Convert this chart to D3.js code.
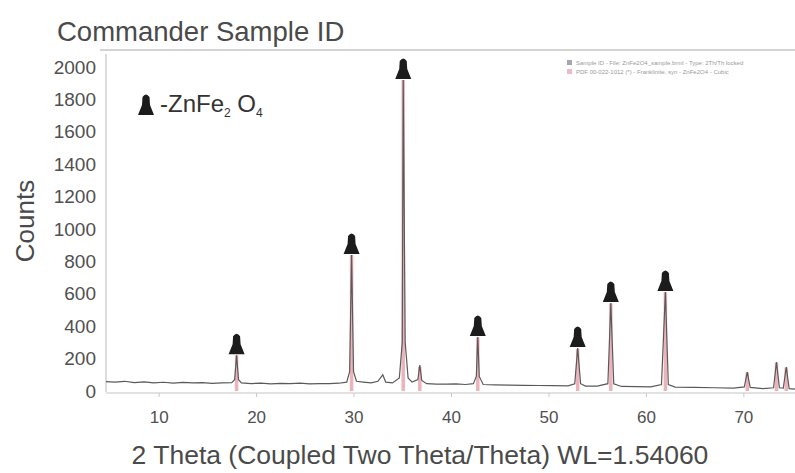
<!DOCTYPE html>
<html><head><meta charset="utf-8">
<script src="https://cdn.jsdelivr.net/npm/d3@7"></script>
<style>body{margin:0;background:#fff}svg{display:block}</style>
</head><body>
<script>
// ---- data ----
const measuredX = [4.6,5.5,6.5,7.5,8.5,9.5,10.5,11.5,12.5,13.5,14.5,15.5,16.5,17.5,17.8,18.0,18.2,18.5,19.5,20.5,21.5,22.5,23.5,24.5,25.5,26.5,27.5,28.5,29.3,29.6,29.8,30.0,30.3,31,31.8,32.5,33.0,33.3,34.0,34.7,35.0,35.1,35.3,35.6,36.0,36.6,36.8,37.0,37.5,38.5,39.5,40.5,41.5,42.3,42.6,42.75,42.9,43.3,44.5,46,47.5,49,50.5,52,52.7,53.0,53.3,53.8,55,56.1,56.4,56.7,57.5,59,60.5,61.6,62.0,62.3,63,65,67,69,70.1,70.4,70.7,72,73.1,73.4,73.7,74.1,74.4,74.7,75.3];
const measuredY = [58,55,60,52,56,50,54,49,53,50,52,47,50,52,70,220,70,50,46,48,44,47,45,48,44,46,45,48,55,120,840,120,60,55,50,60,100,55,50,80,300,1920,300,80,55,70,160,65,45,43,42,44,40,45,90,333,90,40,38,36,35,34,33,32,45,265,45,30,30,45,543,45,28,27,25,40,611,40,24,22,20,18,25,117,22,15,20,179,20,18,148,15,12];
const refX = [18.0,29.8,35.1,36.8,42.75,53.0,56.4,62.0,70.4,73.4,74.4];
const refI = [220,840,1920,150,330,260,540,610,115,175,145];
const markX = [18.0,29.8,35.1,42.75,53.0,56.4,62.0];
const markI = [220,840,1920,333,265,543,611];
const yTicks = [0,200,400,600,800,1000,1200,1400,1600,1800,2000];
const xTicks = [10,20,30,40,50,60,70];
const legendLabels = ["Sample ID - File: ZnFe2O4_sample.brml - Type: 2Th/Th locked","PDF 00-022-1012 (*) - Franklinite, syn - ZnFe2O4 - Cubic"];

const W = 795, H = 473;
const svg = d3.select("body").append("svg").attr("width", W).attr("height", H)
  .style("font-family", "'Liberation Sans', Arial, sans-serif");

const x = d3.scaleLinear().domain([4.6, 75.3]).range([106, 795]);
const y = d3.scaleLinear().domain([0, 2000]).range([391, 67]);

// frame lines
svg.append("line").attr("x1", 100).attr("x2", 795).attr("y1", 50).attr("y2", 50)
  .attr("stroke", "#d4d4d4").attr("stroke-width", 2);
svg.append("line").attr("x1", 106).attr("x2", 106).attr("y1", 54).attr("y2", 392)
  .attr("stroke", "#cfcfcf").attr("stroke-width", 1.5);
svg.append("line").attr("x1", 106).attr("x2", 795).attr("y1", 393).attr("y2", 393)
  .attr("stroke", "#d8d8d8").attr("stroke-width", 1.5);

// title
svg.append("text").attr("x", 57).attr("y", 41).attr("font-size", 27.5).attr("fill", "#4a4a4a")
  .text("Commander Sample ID");

// y axis
const yAxis = d3.axisLeft(y).tickValues(yTicks).tickSize(0).tickPadding(10).tickFormat(d3.format("d"));
const gy = svg.append("g").attr("transform", "translate(106,0)").call(yAxis);
gy.select(".domain").remove();
gy.selectAll("text").attr("font-size", 19).attr("fill", "#505050")
  .style("font-family", "'Liberation Sans', Arial, sans-serif");

// x axis
const xAxis = d3.axisBottom(x).tickValues(xTicks).tickSize(4).tickPadding(14);
const gx = svg.append("g").attr("transform", "translate(0,393)").call(xAxis);
gx.select(".domain").remove();
gx.selectAll("line").attr("stroke", "#c8c8c8");
gx.selectAll("text").attr("font-size", 17).attr("fill", "#505050")
  .style("font-family", "'Liberation Sans', Arial, sans-serif");

// axis titles
svg.append("text").attr("transform", "translate(34,221) rotate(-90)").attr("text-anchor", "middle")
  .attr("font-size", 26).attr("fill", "#4a4a4a").text("Counts");
svg.append("text").attr("x", 420).attr("y", 464).attr("text-anchor", "middle")
  .attr("font-size", 26.5).attr("fill", "#4a4a4a").text("2 Theta (Coupled Two Theta/Theta) WL=1.54060");

// reference sticks (pink)
svg.append("g").selectAll("line").data(refX).join("line")
  .attr("x1", d => x(d)).attr("x2", d => x(d))
  .attr("y1", y(0)).attr("y2", (d, i) => y(refI[i]))
  .attr("stroke", "#e89aa6").attr("stroke-width", 3.5).attr("opacity", 0.75);

// measured pattern
const pts = measuredX.map((d, i) => [d, measuredY[i]]);
svg.append("path").datum(pts)
  .attr("d", d3.line().x(d => x(d[0])).y(d => y(d[1])))
  .attr("fill", "none").attr("stroke", "#5a5a5a").attr("stroke-width", 1.2);

// markers
const markerPath = "M-8,0 L8,0 L4,-10 L3.5,-18 Q0,-23 -3.5,-18 L-4,-10 Z";
svg.append("g").selectAll("path").data(markX).join("path")
  .attr("transform", (d, i) => `translate(${x(d)},${y(markI[i]) - 1})`)
  .attr("d", markerPath).attr("fill", "#1c1c1c");

// inset label
svg.append("path").attr("transform", "translate(146,115)").attr("d", markerPath).attr("fill", "#1c1c1c");
const lab = svg.append("text").attr("x", 160).attr("y", 112).attr("font-size", 24).attr("fill", "#333");
lab.append("tspan").text("-ZnFe");
lab.append("tspan").attr("font-size", 12).attr("dy", 5).text("2");
lab.append("tspan").attr("dy", -5).text(" O");
lab.append("tspan").attr("font-size", 12).attr("dy", 5).text("4");

// legend (top right)
const lg = svg.append("g").attr("transform", "translate(567,60)");
const lgColors = ["#a9a4b0", "#f0b8c4"];
lg.selectAll("rect").data(legendLabels).join("rect")
  .attr("x", 0).attr("y", (d, i) => i * 9).attr("width", 5).attr("height", 5)
  .attr("fill", (d, i) => lgColors[i]);
lg.selectAll("text").data(legendLabels).join("text")
  .attr("x", 9).attr("y", (d, i) => i * 9 + 5).attr("font-size", 6).attr("fill", "#9a9a9a")
  .text(d => d);
</script>
</body></html>
